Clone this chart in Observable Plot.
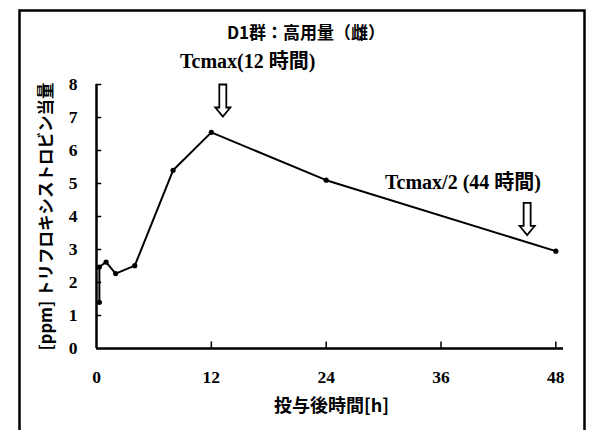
<!DOCTYPE html>
<html>
<head>
<meta charset="utf-8">
<script src="https://cdn.jsdelivr.net/npm/d3@7"></script>
<script src="https://cdn.jsdelivr.net/npm/@observablehq/plot@0.6"></script>
<style>
  body { margin: 0; background: white; }
</style>
</head>
<body>
<div id="chart"></div>
<script>
// ---- data ----
const hours = [0.3, 0.3, 1, 2, 4, 8, 12, 24, 48];
const ppm   = [1.4, 2.47, 2.62, 2.27, 2.51, 5.4, 6.55, 5.1, 2.95];
const xTicks = [0, 12, 24, 36, 48];
const yTicks = [0, 1, 2, 3, 4, 5, 6, 7, 8];
const titleText = "D1群：高用量（雌）";
const xLabel = "投与後時間[h]";
const yLabel = "[ppm] トリフロキシストロビン当量";
const noteTexts = ["Tcmax(12 時間)", "Tcmax/2 (44 時間)"];
const noteHours = [15.8, 38.3];
const noteValues = [8.69, 5.02];
const arrowHours = [13.2, 45.0];
const arrowValues = [8.0, 4.41];

const data = hours.map((t, i) => ({t, v: ppm[i]}));
const notes = noteTexts.map((s, i) => ({s, t: noteHours[i], v: noteValues[i]}));
const arrows = arrowHours.map((t, i) => ({t, v: arrowValues[i]}));

const hollowArrow = {
  draw(context, l) {
    const w = 3.5, H = 7.5, h = 9;
    context.moveTo(-w, 0);
    context.lineTo(-w, -l + h);
    context.lineTo(-H, -l + h);
    context.lineTo(0, -l);
    context.lineTo(H, -l + h);
    context.lineTo(w, -l + h);
    context.lineTo(w, 0);
    context.closePath();
  }
};

const serif = "'Liberation Serif', 'Noto Sans CJK JP', serif";
const cjk = "'Noto Sans CJK JP', sans-serif";

const chart = Plot.plot({
  width: 592,
  height: 430,
  marginLeft: 96,
  marginRight: 29,
  marginTop: 84,
  marginBottom: 82,
  style: {fontFamily: serif, fontSize: "17px", fontWeight: "bold", color: "black", background: "white"},
  x: {domain: [0, 48.8]},
  y: {domain: [0, 8]},
  marks: [
    Plot.frame({insetLeft: -77, insetTop: -74, insetRight: -21, insetBottom: -100, strokeWidth: 2.5, stroke: "black"}),
    Plot.ruleY([0], {strokeWidth: 2.5}),
    Plot.ruleX([0], {strokeWidth: 2.5}),
    Plot.ruleY(yTicks.slice(1), {y: d => d, x1: 0, x2: 0.55, strokeWidth: 1.5}),
    Plot.ruleX(xTicks.slice(1), {x: d => d, y1: 0, y2: 0.2, strokeWidth: 1.5}),
    Plot.axisY({ticks: yTicks, tickSize: 0, tickPadding: 19, label: null, fontSize: 17.5, fontWeight: "bold", fontFamily: serif}),
    Plot.axisX({ticks: xTicks, tickSize: 0, tickPadding: 22, label: null, fontSize: 17.5, fontWeight: "bold", fontFamily: serif}),
    Plot.line(data, {x: "t", y: "v", strokeWidth: 2, stroke: "black"}),
    Plot.dot(data, {x: "t", y: "v", r: 2.6, fill: "black"}),
    Plot.vector(arrows, {x: "t", y: "v", length: 32, rotate: 180, anchor: "start", shape: hollowArrow, fill: "white", stroke: "black", strokeWidth: 1.8, strokeLinejoin: "miter"}),
    Plot.text(notes, {x: "t", y: "v", text: "s", fontSize: 20, fontWeight: "bold", fontFamily: serif}),
    Plot.text([titleText], {frameAnchor: "top", dx: -24, dy: -58, fontSize: 17, fontWeight: "bold", fontFamily: cjk}),
    Plot.text([yLabel], {frameAnchor: "left", textAnchor: "middle", dx: -50, rotate: -90, fontSize: 16.5, fontWeight: "bold", fontFamily: cjk}),
    Plot.text([xLabel], {frameAnchor: "bottom", dx: 1.5, dy: 63, fontSize: 18, fontWeight: "bold", fontFamily: cjk})
  ]
});
document.getElementById("chart").appendChild(chart);
</script>
</body>
</html>
